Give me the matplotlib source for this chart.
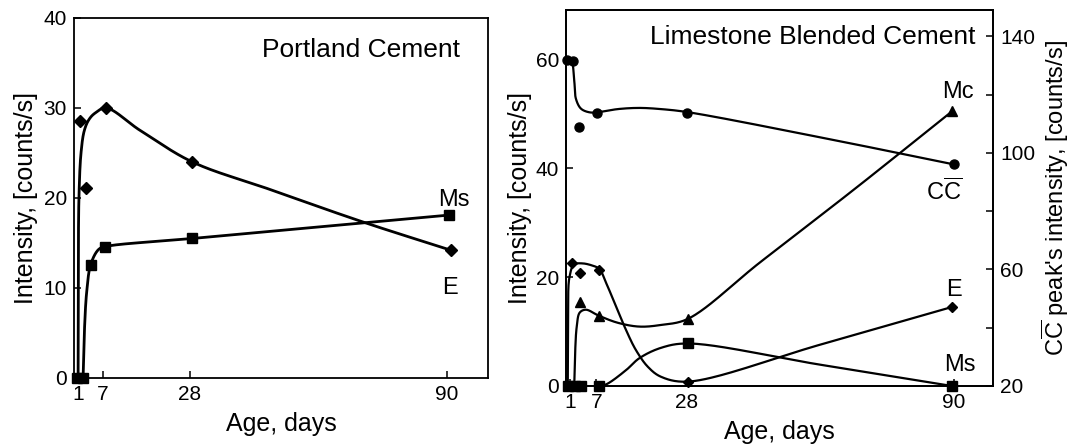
import numpy as np
import matplotlib
matplotlib.use('Agg')
import matplotlib.pyplot as plt
from matplotlib.ticker import FixedLocator

plt.rcParams['font.family'] = ['Liberation Sans', 'DejaVu Sans']
plt.rcParams['mathtext.fontset'] = 'custom'
plt.rcParams['mathtext.rm'] = 'Liberation Sans'

# ---- Portland cement (left panel) ----
pc_E_days = [1.4, 3.0, 7.7, 28.6, 91.0]
pc_E = [28.5, 21.1, 30.0, 24.0, 14.2]
pc_Ms_days = [0.7, 2.2, 4.1, 7.6, 28.6, 90.6]
pc_Ms = [0, 0, 12.6, 14.6, 15.5, 18.1]
# traced fitted curves
pc_E_fit_days = [1.0, 1.05, 1.2, 1.7, 2.5, 3.6, 5.0, 7.7, 16.0, 28.6, 47, 70, 91]
pc_E_fit = [0, 12, 20, 25, 27.5, 28.7, 29.4, 30.0, 27.5, 24.0, 21.0, 17.3, 14.2]
pc_Ms_fit_days = [2.2, 2.5, 3.1, 4.1, 6.0, 7.6, 28.6, 90.6]
pc_Ms_fit = [0, 5, 9.7, 12.7, 14.3, 14.6, 15.5, 18.1]

# ---- Limestone blended cement (right panel) ----
lb_CC_days = [0.3, 1.5, 3.1, 7.2, 28.0, 90.0]
lb_CC = [132, 131.5, 109, 113.7, 113.7, 96]          # right axis
lb_Mc_days = [3.3, 7.6, 28.2, 89.5]
lb_Mc = [15.4, 12.9, 12.3, 50.4]
lb_E_days = [1.3, 3.3, 7.6, 28.2, 89.5]
lb_E = [22.5, 20.8, 21.2, 0.8, 14.5]
lb_Ms_days = [0.5, 2.0, 3.5, 7.6, 28.2, 89.5]
lb_Ms = [0, 0, 0, 0, 7.8, 0]
# traced fitted curves
lb_CC_fit_days = [0.3, 1.2, 1.9, 2.3, 3.5, 5.4, 7.2, 12, 17, 22, 28, 60, 90]
lb_CC_fit = [132, 131.6, 124.8, 118.5, 115.1, 113.9, 113.9, 115, 115.4, 115, 114, 105, 96]
lb_Mc_fit_days = [1.9, 2.1, 2.5, 3.2, 4.6, 7.6, 12, 17, 22, 28.2, 45, 67, 89.5]
lb_Mc_fit = [0, 6, 11, 13.5, 14.0, 12.9, 11.6, 10.9, 11.2, 12.3, 22.7, 36.2, 50.4]
lb_E_fit_days = [0.4, 0.5, 0.8, 1.9, 3.8, 6.1, 7.7, 9.3, 11.6, 13.9, 16.2, 19, 22, 28.2, 59, 89.5]
lb_E_fit = [0, 12, 20, 22.3, 22.5, 22.1, 21.5, 18.9, 14.6, 10.3, 6.6, 3.5, 1.7, 0.8, 7.6, 14.5]
lb_Ms_fit_days = [0.5, 4.0, 7.6, 9.3, 13.9, 17, 22, 28.2, 59, 89.5]
lb_Ms_fit = [0, 0, 0, 0.3, 2.9, 5.1, 7.0, 7.8, 3.9, 0]

day_ticks = [1, 7, 28, 90]


def smooth(xs, ys, xr, yr, n=40):
    # centripetal Catmull-Rom through traced points
    P = np.column_stack([np.asarray(xs, float) / xr, np.asarray(ys, float) / yr])
    P = np.vstack([2 * P[0] - P[1], P, 2 * P[-1] - P[-2]])
    out = []
    for i in range(1, len(P) - 2):
        p0, p1, p2, p3 = P[i - 1:i + 3]
        t0 = 0.0
        t1 = t0 + max(np.linalg.norm(p1 - p0), 1e-9) ** 0.5
        t2 = t1 + max(np.linalg.norm(p2 - p1), 1e-9) ** 0.5
        t3 = t2 + max(np.linalg.norm(p3 - p2), 1e-9) ** 0.5
        t = np.linspace(t1, t2, n)[:, None]
        A1 = (t1 - t) / (t1 - t0) * p0 + (t - t0) / (t1 - t0) * p1
        A2 = (t2 - t) / (t2 - t1) * p1 + (t - t1) / (t2 - t1) * p2
        A3 = (t3 - t) / (t3 - t2) * p2 + (t - t2) / (t3 - t2) * p3
        B1 = (t2 - t) / (t2 - t0) * A1 + (t - t0) / (t2 - t0) * A2
        B2 = (t3 - t) / (t3 - t1) * A2 + (t - t1) / (t3 - t1) * A3
        C = (t2 - t) / (t2 - t1) * B1 + (t - t1) / (t2 - t1) * B2
        out.append(C)
    C = np.vstack(out)
    return C[:, 0] * xr, C[:, 1] * yr


def style(ax):
    for s in ax.spines.values():
        s.set_linewidth(1.3)
    ax.tick_params(direction='in', length=5, width=1.1, labelsize=15, pad=5)


fig = plt.figure(figsize=(10.69, 4.48), dpi=100)

# left panel
ax1 = fig.add_axes([0.0692, 0.1563, 0.3873, 0.8036])
ax1.set_xlim(0, 100)
ax1.set_ylim(0, 40)
x, y = smooth(pc_E_fit_days, pc_E_fit, 100, 40)
ax1.plot(x, y, color='black', lw=2.0)
x, y = smooth(pc_Ms_fit_days, pc_Ms_fit, 100, 40)
ax1.plot(x, y, color='black', lw=2.0)
ax1.plot(pc_E_days, pc_E, 'D', color='black', ms=6, ls='none', clip_on=False, zorder=4)
ax1.plot(pc_Ms_days, pc_Ms, 's', color='black', ms=6.5, ls='none', clip_on=False, zorder=4)
ax1.set_xticks(day_ticks)
ax1.set_yticks([0, 10, 20, 30, 40])
style(ax1)
ax1.set_xlabel('Age, days', fontsize=18, labelpad=6)
ax1.set_ylabel('Intensity, [counts/s]', fontsize=18, labelpad=4)
ax1.text(0.932, 0.91, 'Portland Cement', transform=ax1.transAxes,
         ha='right', va='center', fontsize=19)
ax1.text(0.918, 0.494, 'Ms', transform=ax1.transAxes, ha='center', va='center', fontsize=17)
ax1.text(0.908, 0.25, 'E', transform=ax1.transAxes, ha='center', va='center', fontsize=17)

# right panel
ax2 = fig.add_axes([0.5295, 0.1384, 0.3994, 0.8393])
ax2.set_xlim(0, 99)
ax2.set_ylim(0, 69)
ax3 = ax2.twinx()
ax3.set_ylim(20, 149)

x, y = smooth(lb_Mc_fit_days, lb_Mc_fit, 99, 69)
ax2.plot(x, y, color='black', lw=1.6)
x, y = smooth(lb_E_fit_days, lb_E_fit, 99, 69)
ax2.plot(x, y, color='black', lw=1.6)
x, y = smooth(lb_Ms_fit_days, lb_Ms_fit, 99, 69)
ax2.plot(x, y, color='black', lw=1.6)
x, y = smooth(lb_CC_fit_days, lb_CC_fit, 99, 129)
ax3.plot(x, y, color='black', lw=1.6)

ax2.plot(lb_Mc_days, lb_Mc, '^', color='black', ms=7, ls='none', clip_on=False, zorder=4)
ax2.plot(lb_E_days, lb_E, 'D', color='black', ms=5.5, ls='none', clip_on=False, zorder=4)
ax2.plot(lb_Ms_days, lb_Ms, 's', color='black', ms=6.5, ls='none', clip_on=False, zorder=4)
ax3.plot(lb_CC_days, lb_CC, 'o', color='black', ms=6.5, ls='none', clip_on=False, zorder=4)

ax2.set_xticks(day_ticks)
ax2.set_yticks([0, 20, 40, 60])
ax3.set_yticks([20, 60, 100, 140])
ax3.yaxis.set_minor_locator(FixedLocator([40, 80, 120]))
style(ax2)
style(ax3)
ax3.tick_params(which='minor', direction='in', length=5, width=1.1)
ax2.set_xlabel('Age, days', fontsize=18, labelpad=6)
ax2.set_ylabel('Intensity, [counts/s]', fontsize=18, labelpad=3)
ax3.set_ylabel(r"C$\overline{\mathrm{C}}$ peak's intensity, [counts/s]", fontsize=17, labelpad=3)
ax2.text(0.958, 0.928, 'Limestone Blended Cement', transform=ax2.transAxes,
         ha='right', va='center', fontsize=19)
ax2.text(0.918, 0.782, 'Mc', transform=ax2.transAxes, ha='center', va='center', fontsize=17)
ax2.text(0.885, 0.516, r'C$\overline{\mathrm{C}}$', transform=ax2.transAxes,
         ha='center', va='center', fontsize=17)
ax2.text(0.909, 0.255, 'E', transform=ax2.transAxes, ha='center', va='center', fontsize=17)
ax2.text(0.923, 0.056, 'Ms', transform=ax2.transAxes, ha='center', va='center', fontsize=17)

fig.savefig('out.png', dpi=100)
